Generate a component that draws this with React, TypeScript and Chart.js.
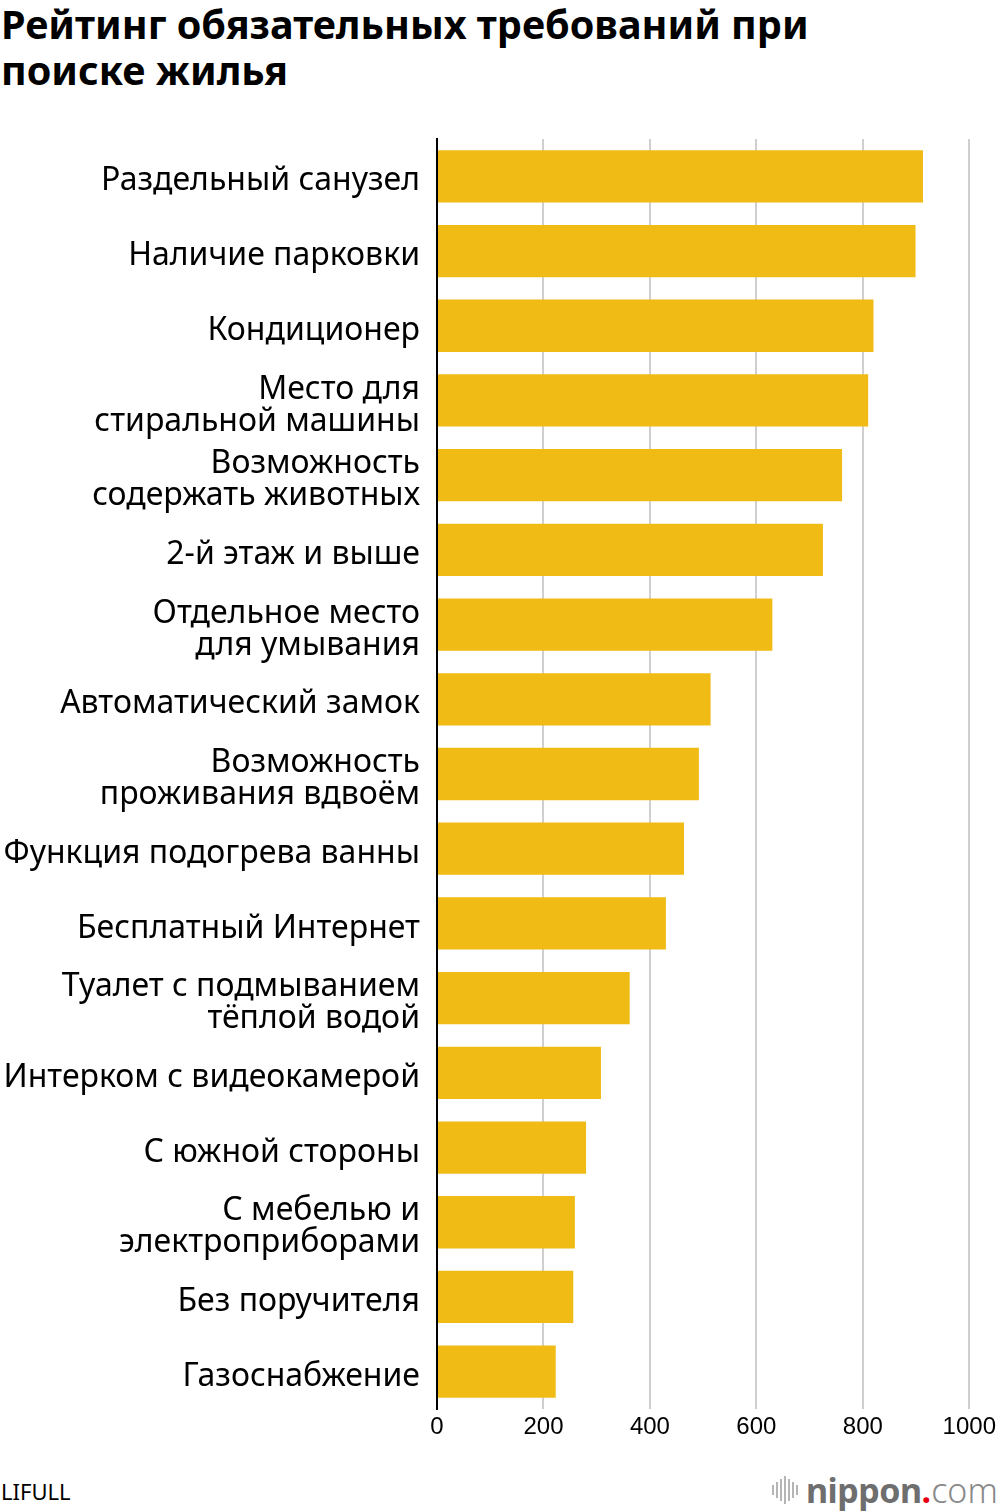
import React, { useEffect, useRef } from "react";
import { Chart, registerables } from "chart.js";

Chart.register(...registerables);

const categories: (string | string[])[] = [
  "Раздельный санузел",
  "Наличие парковки",
  "Кондиционер",
  ["Место для", "стиральной машины"],
  ["Возможность", "содержать животных"],
  "2-й этаж и выше",
  ["Отдельное место", "для умывания"],
  "Автоматический замок",
  ["Возможность", "проживания вдвоём"],
  "Функция подогрева ванны",
  "Бесплатный Интернет",
  ["Туалет с подмыванием", "тёплой водой"],
  "Интерком с видеокамерой",
  "С южной стороны",
  ["С мебелью и", "электроприборами"],
  "Без поручителя",
  "Газоснабжение",
];

const values: number[] = [913, 899, 820, 810, 761, 725, 630, 514, 492, 464, 430, 362, 308, 280, 259, 256, 223];

const xTicks: number[] = [0, 200, 400, 600, 800, 1000];

const title = "Рейтинг обязательных требований при поиске жилья";
const source = "LIFULL";

export default function App() {
  const ref = useRef<HTMLCanvasElement | null>(null);

  useEffect(() => {
    if (!ref.current) return;
    const chart = new Chart(ref.current, {
      type: "bar",
      data: {
        labels: categories,
        datasets: [
          {
            data: values,
            backgroundColor: "#F0BB15",
            borderWidth: 0,
            categoryPercentage: 0.7,
            barPercentage: 1,
          },
        ],
      },
      options: {
        indexAxis: "y",
        animation: false,
        responsive: false,
        maintainAspectRatio: false,
        layout: { padding: { top: 0, right: 30, left: 0, bottom: 0 } },
        plugins: { legend: { display: false }, tooltip: { enabled: false } },
        scales: {
          x: {
            min: 0,
            max: 1000,
            afterBuildTicks: (scale: any) => {
              scale.ticks = xTicks.map((v) => ({ value: v }));
            },
            afterFit: (scale: any) => {
              scale.height = 41;
            },
            grid: {
              color: "#cfcfcf",
              lineWidth: 2,
              drawTicks: false,
            },
            border: { display: false },
            ticks: {
              color: "#000",
              padding: 4,
              callback: (v: any) => String(v),
              font: { family: "'Liberation Sans', Arial, sans-serif", size: 24 },
            },
          },
          y: {
            afterFit: (scale: any) => {
              scale.width = 437;
            },
            grid: { display: false, drawTicks: false },
            border: { display: true, color: "#000", width: 2 },
            ticks: {
              color: "#000",
              padding: 17,
              labelOffset: 5,
              font: { family: "'Noto Sans', sans-serif", size: 32, lineHeight: 1.0 },
            },
          },
        },
      },
    });
    return () => chart.destroy();
  }, []);

  return (
    <div style={{ position: "absolute", left: 0, top: 0, width: 1000, height: 1512, background: "#fff", overflow: "hidden" }}>
      <div
        style={{
          position: "absolute",
          left: 1,
          top: 1,
          width: 880,
          fontFamily: "'Noto Sans', sans-serif",
          fontWeight: 700,
          fontSize: 39.6,
          lineHeight: "46px",
          color: "#000",
        }}
      >
        {title}
      </div>
      <canvas ref={ref} width={1000} height={1344} style={{ position: "absolute", left: 0, top: 106, width: 1000, height: 1344 }} />
      <div
        style={{
          position: "absolute",
          left: 1,
          top: 1476,
          fontFamily: "'Noto Sans', sans-serif",
          fontSize: 22,
          lineHeight: "30px",
          color: "#000",
        }}
      >
        {source}
      </div>
      <div style={{ position: "absolute", left: 772, top: 1472, height: 36, display: "flex", alignItems: "center" }}>
        <div style={{ display: "flex", alignItems: "center", gap: 2, marginRight: 8 }}>
          {[10, 16, 22, 28, 22, 16, 10].map((h, i) => (
            <div key={i} style={{ width: 2, height: h, background: "#b5b5b5" }} />
          ))}
        </div>
        <span style={{ fontFamily: "'Noto Sans', sans-serif", fontSize: 34, fontWeight: 700, color: "#6e6e6e", letterSpacing: -0.5 }}>nippon</span>
        <span style={{ fontFamily: "'Noto Sans', sans-serif", fontSize: 34, fontWeight: 700, color: "#e60012" }}>.</span>
        <span style={{ fontFamily: "'Noto Sans', sans-serif", fontSize: 34, fontWeight: 300, color: "#8a8a8a" }}>com</span>
      </div>
    </div>
  );
}
